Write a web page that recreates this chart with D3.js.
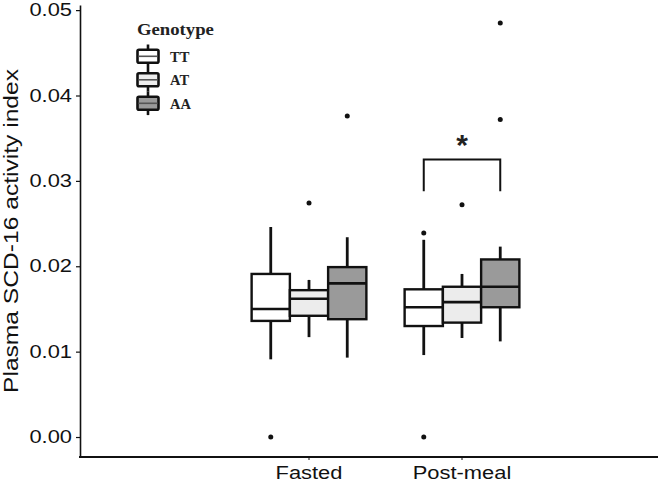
<!DOCTYPE html>
<html>
<head>
	<meta charset="utf-8">
	<title>Plasma SCD-16 activity index</title>
	<script src="https://d3js.org/d3.v7.min.js"></script>
	<style>
		*{
			padding: 0;
			margin: 0;
		}
		body{
			background: #fff;
		}
		svg{
			display: block;
		}
		.axis text{
			font-family: "Liberation Sans", Arial, sans-serif;
			fill: #111;
		}
		.axis line, .axis path{
			stroke: #111;
		}
	</style>
</head>
<body>
	<svg width="660" height="483"></svg>
	<script type="text/javascript">
		// data, one entry per (meal, genotype) box
		var meals = ["Fasted", "Post-meal"],
			genotypes = ["TT", "AT", "AA"],
			boxMeal = ["Fasted", "Fasted", "Fasted", "Post-meal", "Post-meal", "Post-meal"],
			boxGeno = ["TT", "AT", "AA", "TT", "AT", "AA"],
			whiskerLow = [0.0091, 0.0117, 0.0093, 0.0096, 0.0116, 0.0112],
			q1 = [0.0136, 0.0142, 0.0138, 0.0130, 0.0134, 0.0152],
			median = [0.0150, 0.0162, 0.0180, 0.0152, 0.0158, 0.0176],
			q3 = [0.0191, 0.0172, 0.0199, 0.0173, 0.0176, 0.0208],
			whiskerHigh = [0.0246, 0.0184, 0.0234, 0.0231, 0.0191, 0.0223],
			outliers = [[0.0000], [0.0274], [0.0376], [0.0000, 0.0239], [0.0272], [0.0372, 0.0485]],
			yTicks = [0.00, 0.01, 0.02, 0.03, 0.04, 0.05],
			fills = {TT: "#ffffff", AT: "#ececec", AA: "#9a9a9a"};

		var svg = d3.select("svg");
		// panel edges (window.top is read-only, so use other names)
		var padL = 80, padR = 658, padT = 5, padB = 457;

		var y = d3.scaleLinear().domain([-0.00234, 0.0506]).range([padB, padT]);
		var x0 = d3.scaleBand().domain(meals).range([232.5, 538.5]);
		var x1 = d3.scaleBand().domain(genotypes).range([0, x0.bandwidth()]).paddingOuter(0.5);

		// stretch text along its reading direction, the picture is wider than plain Arial
		function widen(sel, k) {
			sel.each(function () {
				var w = this.getComputedTextLength();
				d3.select(this).attr("textLength", w * k).attr("lengthAdjust", "spacingAndGlyphs");
			});
		}

		var boxes = d3.range(boxMeal.length).map(function (i) {
			return {meal: boxMeal[i], geno: boxGeno[i], lo: whiskerLow[i], q1: q1[i],
				med: median[i], q3: q3[i], hi: whiskerHigh[i], out: outliers[i]};
		});

		// axes
		var yAxis = svg.append("g")
			.attr("class", "axis")
			.attr("transform", "translate(" + padL + ",0)")
			.call(d3.axisLeft(y).tickValues(yTicks).tickFormat(d3.format(".2f")).tickSize(4).tickSizeOuter(0).tickPadding(4));
		yAxis.select(".domain").attr("stroke-width", 1.6);
		yAxis.selectAll(".tick line").attr("stroke-width", 1.2);
		yAxis.selectAll("text").attr("font-size", 17.5);
		widen(yAxis.selectAll("text"), 1.25);

		var xAxis = svg.append("g")
			.attr("class", "axis")
			.attr("transform", "translate(0," + padB + ")")
			.call(d3.axisBottom(x0).tickSize(3).tickPadding(5));
		xAxis.select(".domain").remove();
		xAxis.append("line")
			.attr("x1", padL - 1).attr("x2", padR)
			.attr("stroke", "#111").attr("stroke-width", 1.8);
		xAxis.selectAll("text").attr("font-size", 17.5).attr("dy", "0.8em");
		widen(xAxis.selectAll("text"), 1.25);

		var yTitle = svg.append("text")
			.attr("transform", "rotate(-90)")
			.attr("x", -(padT + padB) / 2)
			.attr("y", 18)
			.attr("text-anchor", "middle")
			.attr("font-family", "Liberation Sans, Arial, sans-serif")
			.attr("font-size", 20)
			.attr("fill", "#111")
			.text("Plasma SCD-16 activity index");
		widen(yTitle, 1.23);

		// boxplots
		var g = svg.selectAll(".box")
			.data(boxes)
			.enter().append("g")
			.attr("class", "box")
			.attr("transform", function (d) { return "translate(" + (x0(d.meal) + x1(d.geno)) + ",0)"; });
		var bw = x1.bandwidth();

		g.append("line")
			.attr("x1", bw / 2).attr("x2", bw / 2)
			.attr("y1", function (d) { return y(d.hi); })
			.attr("y2", function (d) { return y(d.q3); })
			.attr("stroke", "#111").attr("stroke-width", 2.8);
		g.append("line")
			.attr("x1", bw / 2).attr("x2", bw / 2)
			.attr("y1", function (d) { return y(d.q1); })
			.attr("y2", function (d) { return y(d.lo); })
			.attr("stroke", "#111").attr("stroke-width", 2.8);
		g.append("rect")
			.attr("x", 0)
			.attr("width", bw)
			.attr("y", function (d) { return y(d.q3); })
			.attr("height", function (d) { return y(d.q1) - y(d.q3); })
			.attr("fill", function (d) { return fills[d.geno]; })
			.attr("stroke", "#111").attr("stroke-width", 2.4);
		g.append("line")
			.attr("x1", 0).attr("x2", bw)
			.attr("y1", function (d) { return y(d.med); })
			.attr("y2", function (d) { return y(d.med); })
			.attr("stroke", "#111").attr("stroke-width", 2.6);
		g.selectAll(".out")
			.data(function (d) { return d.out; })
			.enter().append("circle")
			.attr("class", "out")
			.attr("cx", bw / 2)
			.attr("cy", function (v) { return y(v); })
			.attr("r", 2.5)
			.attr("fill", "#111");

		// significance bracket, Post-meal TT vs AA
		var bx1 = x0("Post-meal") + x1("TT") + bw / 2,
			bx2 = x0("Post-meal") + x1("AA") + bw / 2,
			byTop = y(0.0325), byEnd = y(0.0288);
		svg.append("path")
			.attr("d", "M" + bx1 + "," + byEnd + "V" + byTop + "H" + bx2 + "V" + byEnd)
			.attr("fill", "none").attr("stroke", "#111").attr("stroke-width", 2);
		svg.append("text")
			.attr("x", (bx1 + bx2) / 2)
			.attr("y", byTop - 5)
			.attr("text-anchor", "middle")
			.attr("font-family", "Liberation Sans, Arial, sans-serif")
			.attr("font-weight", "bold")
			.attr("font-size", 30)
			.attr("fill", "#222")
			.text("*");

		// legend
		var legend = svg.append("g").attr("transform", "translate(137,0)");
		var lt = legend.append("text")
			.attr("x", 0).attr("y", 35)
			.attr("font-family", "Liberation Serif, Times New Roman, serif")
			.attr("font-weight", "bold")
			.attr("font-size", 17)
			.attr("fill", "#222")
			.text("Genotype");
		widen(lt, 1.1);

		var key = legend.selectAll(".key")
			.data(genotypes)
			.enter().append("g")
			.attr("class", "key")
			.attr("transform", function (d, i) { return "translate(0," + (56.3 + i * 23.5) + ")"; });
		key.append("line")
			.attr("x1", 11).attr("x2", 11)
			.attr("y1", -11.8).attr("y2", 11.8)
			.attr("stroke", "#111").attr("stroke-width", 2.6);
		key.append("rect")
			.attr("x", 0.5).attr("y", -6.5)
			.attr("width", 21).attr("height", 13)
			.attr("rx", 1.5)
			.attr("fill", function (d) { return fills[d]; })
			.attr("stroke", "#111").attr("stroke-width", 2.6);
		key.append("line")
			.attr("x1", 1.5).attr("x2", 20.5)
			.attr("stroke", "#555").attr("stroke-width", 1.6);
		key.append("text")
			.attr("x", 33).attr("y", 5.5)
			.attr("font-family", "Liberation Serif, Times New Roman, serif")
			.attr("font-weight", "bold")
			.attr("font-size", 14.5)
			.attr("fill", "#222")
			.text(function (d) { return d; });
	</script>
</body>
</html>
